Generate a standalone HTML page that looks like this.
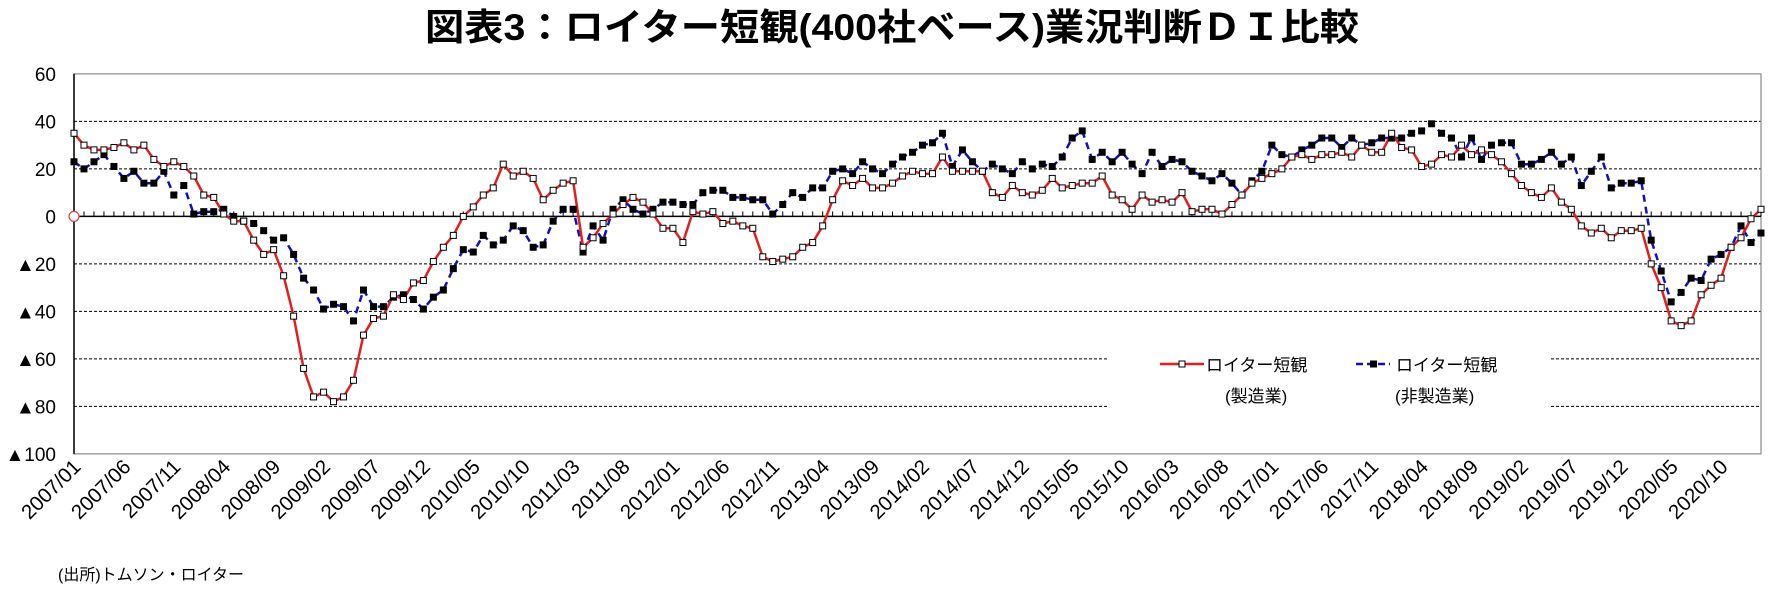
<!DOCTYPE html>
<html><head><meta charset="utf-8"><style>
body{margin:0;background:#fff;width:1770px;height:589px;overflow:hidden}
svg{display:block}
</style></head><body>
<svg id="c" width="1770" height="589" xmlns="http://www.w3.org/2000/svg">
<text x="892" y="40" text-anchor="middle" font-family="'Liberation Sans','Noto Sans CJK JP',sans-serif" font-weight="bold" font-size="37" textLength="934" lengthAdjust="spacingAndGlyphs">図表3：ロイター短観(400社ベース)業況判断ＤＩ比較</text>
<text x="58" y="580" font-family="'Liberation Sans','Noto Sans CJK JP',sans-serif" font-size="16">(出所)トムソン・ロイター</text>
</svg>
<script>
const m=[35,30,28,28,29,31,28,30,24,21,23,21,17,9,8,1,-2,-2,-10,-16,-14,-25,-42,-64,-76,-74,-78,-76,-69,-50,-43,-42,-33,-35,-28,-27,-19,-13,-8,0,4,9,12,
22,17,19,16,7,11,14,15,-13,
-9,-3,1,5,8,6,1,-5,-5,-11,2,1,2,-3,-2,-4,-5,-17,-19,-18,-17,-13,-11,-4,7,15,13,16,12,12,14,17,19,18,18,25,19,19,19,19,10,8,13,10,9,11,16,12,13,14,14,17,9,7,3,9,6,7,6,10,
2,3,3,1,5,9,14,16,18,20,25,26,24,26,26,27,25,30,27,27,35,29,28,21,22,26,25,30,26,28,26,23,18,13,10,8,12,6,3,-4,-7,-5,-9,-6,-6,-5,-20,-30,-44,-46,-44,-33,-29,-26,-13,-9,-1,3];
const n=[23,20,23,26,21,16,19,14,14,19,9,13,1,2,2,3,0,-2,-3,-6,-10,-9,-16,-26,-31,-39,-37,-38,-44,-31,-38,-38,-34,-33,-35,-39,-34,-31,-22,-14,-15,-8,-12,
-10,-4,-6,-13,-12,-2,3,3,-15,
-4,-10,3,7,3,1,3,6,6,5,5,10,11,11,8,8,7,7,1,5,10,8,12,12,19,20,18,23,20,18,22,25,27,30,31,35,21,28,23,19,22,20,18,23,20,22,21,25,33,36,24,27,23,27,22,18,27,21,24,
23,
19,17,15,18,14,9,15,19,30,26,25,28,30,33,33,29,33,30,31,33,33,33,35,36,39,35,33,25,33,24,30,31,31,22,22,24,27,22,25,13,19,25,12,14,14,15,-10,-23,-36,-32,-26,-27,-18,-16,-13,-4,-11,-7];
const X0=74,X1=1761,Y0=216.4,K=2.375,N=170,dx=(X1-X0)/(N-1);
const X=i=>X0+i*dx,Y=v=>Y0-v*K;
let s='';
const F="font-family=\"'Liberation Sans','Noto Sans CJK JP',sans-serif\"";
[40,20,-20,-40].forEach(v=>{s+=`<line x1="${X0}" x2="${X1}" y1="${Y(v)}" y2="${Y(v)}" stroke="#000" stroke-width="1" stroke-dasharray="3,2"/>`});
[-60,-80].forEach(v=>{s+=`<line x1="${X0}" x2="1108" y1="${Y(v)}" y2="${Y(v)}" stroke="#000" stroke-dasharray="3,2"/><line x1="1551" x2="${X1}" y1="${Y(v)}" y2="${Y(v)}" stroke="#000" stroke-dasharray="3,2"/>`});
s+=`<rect x="${X0}" y="${Y(60)}" width="${X1-X0}" height="${Y(-100)-Y(60)}" fill="none" stroke="#888" stroke-width="1.2"/>`;
s+=`<line x1="${X0}" x2="${X0}" y1="${Y(60)}" y2="${Y(-100)}" stroke="#000" stroke-width="1.5"/>`;
s+=`<line x1="${X0}" x2="${X1}" y1="${Y0}" y2="${Y0}" stroke="#000" stroke-width="1.5"/>`;
for(let i=0;i<N;i++)s+=`<line x1="${X(i)}" x2="${X(i)}" y1="${Y0}" y2="${Y0-5}" stroke="#000"/>`;
[60,40,20,0,-20,-40,-60,-80,-100].forEach(v=>{s+=`<text x="56" y="${Y(v)+7}" text-anchor="end" ${F} font-size="19">${v<0?'▲'+(-v):v}</text>`});
for(let i=0;i<N;i+=5){const y=2007+Math.floor(i/12),mo=String(i%12+1).padStart(2,'0');
s+=`<text transform="translate(${X(i)+8},468) rotate(-45)" text-anchor="end" ${F} font-size="20.5">${y}/${mo}</text>`;}
const pts=a=>a.map((v,i)=>X(i).toFixed(1)+','+Y(v).toFixed(1)).join(' ');
s+=`<polyline points="${pts(n)}" fill="none" stroke="#1010c0" stroke-width="2.5" stroke-dasharray="7,5"/>`;
s+=`<polyline points="${pts(m)}" fill="none" stroke="#e02020" stroke-width="2.5"/>`;
n.forEach((v,i)=>{s+=`<rect x="${X(i)-3.5}" y="${Y(v)-3.5}" width="7" height="7" fill="#000"/>`});
m.forEach((v,i)=>{s+=`<rect x="${X(i)-3}" y="${Y(v)-3}" width="6" height="6" fill="#fff" stroke="#000" stroke-width="1"/>`});
s+=`<circle cx="${X0}" cy="${Y0}" r="5" fill="#fff" stroke="#e04040" stroke-width="1.2"/>`;
s+=`<line x1="1160" x2="1204" y1="364" y2="364" stroke="#e02020" stroke-width="2.5"/><rect x="1179" y="361" width="6" height="6" fill="#fff" stroke="#000"/>`;
s+=`<text x="1206" y="371" ${F} font-size="17">ロイター短観</text><text x="1225" y="402" ${F} font-size="17">(製造業)</text>`;
s+=`<line x1="1356" x2="1390" y1="364" y2="364" stroke="#1010c0" stroke-width="2.5" stroke-dasharray="7,4"/><rect x="1370" y="360.5" width="7" height="7" fill="#000"/>`;
s+=`<text x="1396" y="371" ${F} font-size="17">ロイター短観</text><text x="1395" y="402" ${F} font-size="17">(非製造業)</text>`;
document.getElementById('c').insertAdjacentHTML('beforeend',s);
</script>
</body></html>
